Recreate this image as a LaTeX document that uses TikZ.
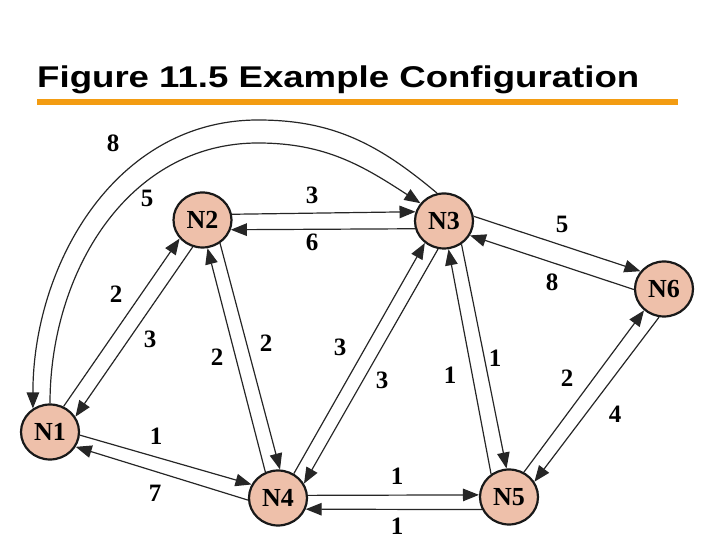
\documentclass[tikz,border=0pt]{standalone}
\usepackage{fontspec}
\setmainfont{Liberation Serif}
\newfontfamily\titlefont{Liberation Sans}
\usetikzlibrary{shapes.geometric,arrows.meta}
\definecolor{nodefill}{RGB}{238,192,170}
\definecolor{barorange}{RGB}{243,156,18}
\begin{document}
\begin{tikzpicture}[x=1pt,y=1pt,
  nd/.style={ellipse,draw=black!90,line width=2.2pt,fill=nodefill,minimum width=58pt,minimum height=55pt,inner sep=0pt,font=\fontsize{26}{26}\selectfont\bfseries},
  edge/.style={line width=1.2pt,draw=black!85,-{Triangle[length=16pt,width=12.5pt]}},
  lbl/.style={font=\fontsize{25}{25}\selectfont\bfseries,inner sep=0pt}]
\useasboundingbox (0,0) rectangle (720,540);
% title
\node[anchor=base west,inner sep=0pt,font=\titlefont\bfseries\fontsize{30}{30}\selectfont,xscale=1.22] (title) at (37,452) {Figure 11.5 Example Configuration};
\fill[barorange] (37,435) rectangle (678,441);
% nodes
\node[nd] (N1) at (50,108) {N1};
\node[nd] (N2) at (202.5,320) {N2};
\node[nd] (N3) at (444,319) {N3};
\node[nd] (N4) at (278,42) {N4};
\node[nd] (N5) at (509,43) {N5};
\node[nd] (N6) at (664,251) {N6};
\coordinate (pk8) at (258,420);
\coordinate (pk5) at (258,397);
% edges
\draw[edge] (N1.62.7) -- (N2.219.6);
\draw[edge] (N2.250) -- (N1.31.3);
\draw[edge] (N1.-6) -- (N4.153.7);
\draw[edge] (N4.184) -- (N1.-30.8);
\draw[edge] (N2.11) -- (N3.162);
\draw[edge] (N3.195) -- (N2.-19);
\draw[edge] (N4.116) -- (N2.280);
\draw[edge] (N2.307.5) -- (N4.86);
\draw[edge] (N4.57) -- (N3.229.7);
\draw[edge] (N3.258.7) -- (N4.29.6);
\draw[edge] (N4.5.7) -- (N5.176);
\draw[edge] (N5.205.5) -- (N4.-22.7);
\draw[edge] (N5.128.7) -- (N3.279);
\draw[edge] (N3.307) -- (N5.95);
\draw[edge] (N3.9.3) -- (N6.143.5);
\draw[edge] (N6.181) -- (N3.331);
\draw[edge] (N5.59) -- (N6.227.6);
\draw[edge] (N6.260.6) -- (N5.31.5);
\draw[edge] (N3.104.6) to[out=140,in=0] (pk8) to[out=180,in=90] (N1.126);
\draw[edge] (N1.90) to[out=90,in=180] (pk5) to[out=0,in=147] (N3.143.6);
% labels
\node[lbl] (l1) at (113,397) {8};
\node[lbl] (l2) at (147,342) {5};
\node[lbl] (l3) at (312,345) {3};
\node[lbl] (l4) at (312,298) {6};
\node[lbl] (l5) at (562,316) {5};
\node[lbl] (l6) at (552,258) {8};
\node[lbl] (l7) at (116,246) {2};
\node[lbl] (l8) at (150,201) {3};
\node[lbl] (l9) at (217,183) {2};
\node[lbl] (l10) at (266,197) {2};
\node[lbl] (l11) at (340,193) {3};
\node[lbl] (l12) at (382,160) {3};
\node[lbl] (l13) at (450,165) {1};
\node[lbl] (l14) at (495,182) {1};
\node[lbl] (l15) at (567,162) {2};
\node[lbl] (l16) at (615,126) {4};
\node[lbl] (l17) at (156,104) {1};
\node[lbl] (l18) at (155,47) {7};
\node[lbl] (l19) at (397,64) {1};
\node[lbl] (l20) at (397,14) {1};
\end{tikzpicture}
\end{document}
